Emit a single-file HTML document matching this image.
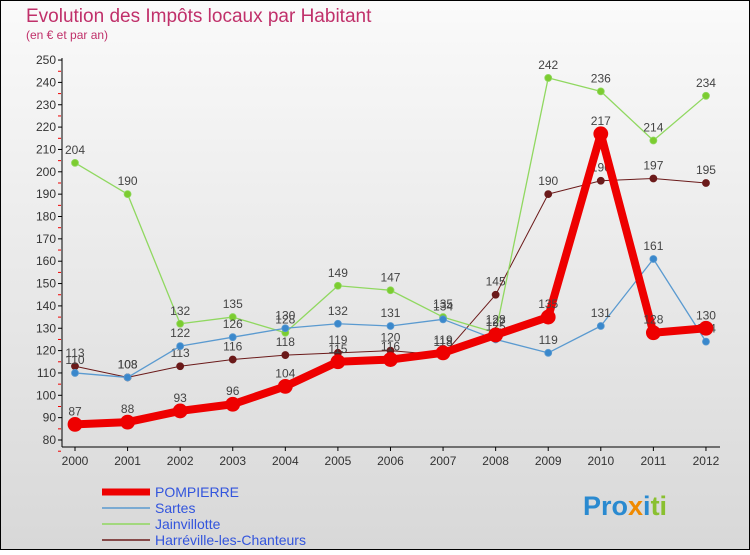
<!DOCTYPE html>
<html><head><meta charset="utf-8"><style>
body{margin:0;width:750px;height:550px;overflow:hidden;font-family:"Liberation Sans",sans-serif}
</style></head><body>
<svg width="750" height="550" xmlns="http://www.w3.org/2000/svg">
<defs><linearGradient id="bg" x1="0" y1="0" x2="0" y2="1"><stop offset="0" stop-color="#fafafa"/><stop offset="1" stop-color="#d8d8d8"/></linearGradient></defs>
<rect x="0.5" y="0.5" width="749" height="549" fill="url(#bg)" stroke="#000"/>
<text x="26" y="22" font-size="19" fill="#c0306a">Evolution des Impôts locaux par Habitant</text>
<text x="26" y="39" font-size="12" fill="#c0306a">(en € et par an)</text>
<g id="axes"></g><g id="series"></g><g id="legend"></g>
<text x="583" y="515" font-size="27" font-weight="bold"><tspan fill="#2a8ad0">Pro</tspan><tspan fill="#f08a00">x</tspan><tspan fill="#2a8ad0">i</tspan><tspan fill="#8ac030">ti</tspan></text>
</svg>
<script>
const years=[2000,2001,2002,2003,2004,2005,2006,2007,2008,2009,2010,2011,2012];
const pompierre=[87,88,93,96,104,115,116,119,127,135,217,128,130];
const sartes=[110,108,122,126,130,132,131,134,125,119,131,161,124];
const jainvillotte=[204,190,132,135,128,149,147,135,128,242,236,214,234];
const harreville=[113,108,113,116,118,119,120,118,145,190,196,197,195];
const yTicks=[80,90,100,110,120,130,140,150,160,170,180,190,200,210,220,230,240,250];
const NS="http://www.w3.org/2000/svg";
const X=i=>75+i*52.58, Y=v=>440-(v-80)*2.235;
function mk(t,a,p){const e=document.createElementNS(NS,t);for(const k in a)e.setAttribute(k,a[k]);p.appendChild(e);return e;}
const ax=document.getElementById('axes');
let l=mk('line',{x1:62,y1:58,x2:62,y2:447,stroke:'#000'},ax);


l=mk('line',{x1:62,y1:447,x2:720,y2:447,stroke:'#000'},ax);


yTicks.forEach(v=>{const y=Y(v);
 mk('line',{x1:58,y1:y,x2:62,y2:y,stroke:'#000'},ax);
 mk('line',{x1:58,y1:y+11.2,x2:61,y2:y+11.2,stroke:'#e00'},ax);
 const t=mk('text',{x:56,y:y+4,'font-size':12,fill:'#333','text-anchor':'end'},ax);t.textContent=v;
 
 });
years.forEach((yr,i)=>{mk('line',{x1:X(i),y1:447,x2:X(i),y2:451,stroke:'#000'},ax);
 const t=mk('text',{x:X(i),y:465,'font-size':12,fill:'#333','text-anchor':'middle'},ax);t.textContent=yr;
 
 });
const sg=document.getElementById('series');
const series=[
 {n:'harreville',d:harreville,c:'#6b1a1a',w:1,r:3.5},
 {n:'jainvillotte',d:jainvillotte,c:'#90d860',w:1.3,r:3.5,f:'#7ccc30'},
 {n:'sartes',d:sartes,c:'#5a9ad0',w:1.3,r:3.5,f:'#3a88cc'},
 {n:'pompierre',d:pompierre,c:'#ee0000',w:8,r:7}];
series.forEach(s=>{const g=mk('g',{},sg);
 
 
 mk('polyline',{points:s.d.map((v,i)=>X(i)+','+Y(v)).join(' '),fill:'none',stroke:s.c,'stroke-width':s.w,'stroke-linejoin':'round'},g);
 s.d.forEach((v,i)=>{const c=mk('circle',{cx:X(i),cy:Y(v),r:s.r,fill:s.f||s.c,stroke:s.c,'stroke-width':0.8},g);
  
  
  const t=mk('text',{x:X(i),y:Y(v)-9,'font-size':12,fill:'#444','text-anchor':'middle'},g);t.textContent=v;});});
const lg=document.getElementById('legend');
const leg=[['POMPIERRE','#ee0000',7],['Sartes','#5a9ad0',1.5],['Jainvillotte','#90d860',1.5],['Harréville-les-Chanteurs','#6b1a1a',1.5]];
leg.forEach((e,i)=>{const y=492+i*16;const g=mk('g',{},lg);
 
 
 mk('line',{x1:102,y1:y,x2:150,y2:y,stroke:e[1],'stroke-width':e[2]},g);
 const t=mk('text',{x:155,y:y+5,'font-size':14,fill:'#3355dd'},g);t.textContent=e[0];});
</script>
</body></html>
